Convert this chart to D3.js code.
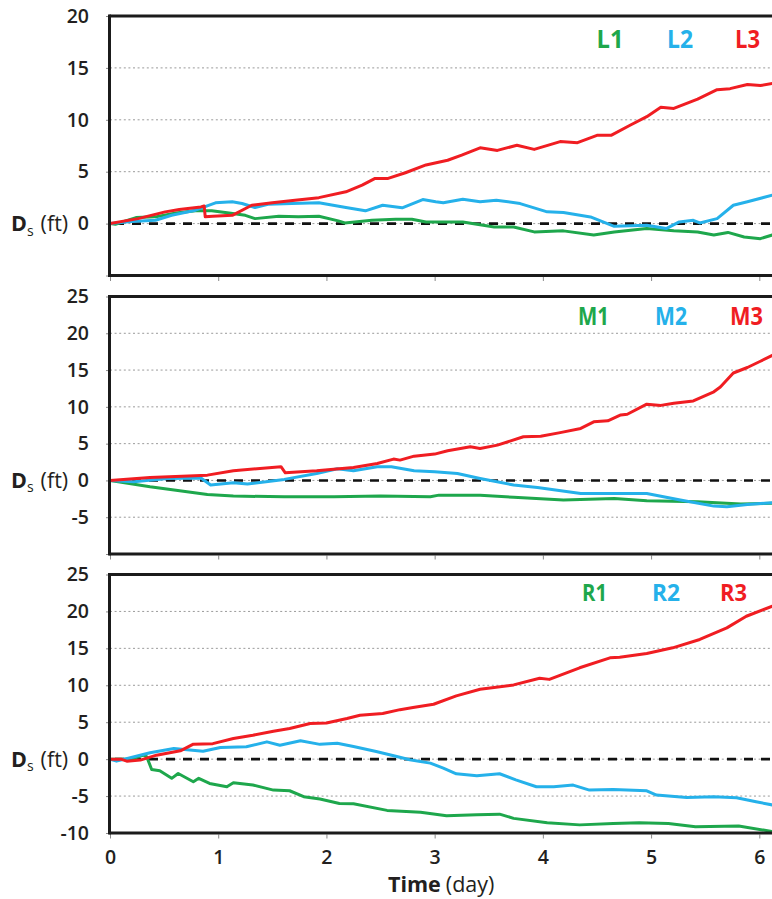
<!DOCTYPE html>
<html>
<head>
<meta charset="utf-8">
<script src="https://cdn.jsdelivr.net/npm/d3@7"></script>
<style>
  html, body { margin: 0; padding: 0; background: #fff; }
  svg { display: block; font-family: "Open Sans", "DejaVu Sans", sans-serif; }
</style>
</head>
<body>
<svg id="chart" width="772" height="899"></svg>
<script>
// Time axis (days)
const timeTicks = [0, 1, 2, 3, 4, 5, 6];

// Vertical tick values of each panel
const ticksL = [-5, 0, 5, 10, 15, 20];
const ticksM = [-10, -5, 0, 5, 10, 15, 20, 25];
const ticksR = [-10, -5, 0, 5, 10, 15, 20, 25];

// Upper panel: [day, Ds in ft]
const L1 = [[0,0],[0.05,-0.06],[0.24,0.58],[0.42,0.65],[0.61,1.03],[0.79,1.23],[0.94,1.23],[1.10,1.03],[1.25,0.8],[1.34,0.48],[1.56,0.71],[1.74,0.65],[1.93,0.71],[2.11,0.26],[2.17,0.06],[2.42,0.32],[2.64,0.42],[2.79,0.42],[2.92,0.16],[3.26,0.16],[3.55,-0.32],[3.73,-0.32],[3.92,-0.8],[4.19,-0.7],[4.47,-1.1],[4.66,-0.8],[4.96,-0.48],[5.21,-0.7],[5.43,-0.8],[5.58,-1.1],[5.71,-0.85],[5.86,-1.29],[6.01,-1.45],[6.12,-1.1]];
const L2 = [[0,0],[0.2,0.2],[0.42,0.32],[0.57,0.8],[0.79,1.29],[0.975,2.0],[1.13,2.1],[1.22,1.94],[1.34,1.55],[1.46,1.87],[1.68,1.94],[1.93,2.0],[2.18,1.55],[2.36,1.23],[2.52,1.77],[2.70,1.52],[2.89,2.32],[3.01,2.1],[3.08,2.0],[3.26,2.35],[3.42,2.1],[3.57,2.26],[3.79,1.93],[4.04,1.13],[4.19,1.06],[4.44,0.64],[4.66,-0.26],[4.96,-0.16],[5.14,-0.48],[5.26,0.16],[5.39,0.32],[5.45,0.06],[5.61,0.48],[5.76,1.77],[5.89,2.1],[6.12,2.74]];
const L3 = [[0,0],[0.26,0.48],[0.51,1.13],[0.64,1.35],[0.84,1.61],[0.87,1.7],[0.88,0.65],[0.95,0.7],[1.13,0.8],[1.31,1.77],[1.50,2.0],[1.71,2.26],[1.93,2.5],[2.18,3.06],[2.33,3.7],[2.45,4.35],[2.57,4.35],[2.73,4.9],[2.92,5.65],[3.12,6.1],[3.25,6.6],[3.42,7.3],[3.58,7.05],[3.76,7.55],[3.92,7.15],[4.16,7.9],[4.32,7.8],[4.50,8.5],[4.63,8.5],[4.81,9.5],[4.96,10.3],[5.09,11.2],[5.21,11.1],[5.43,12.0],[5.61,12.9],[5.73,13.0],[5.89,13.4],[6.01,13.3],[6.12,13.5]];

// Middle panel
const M1 = [[0,0],[0.37,-0.86],[0.90,-1.9],[1.14,-2.13],[1.61,-2.22],[2.07,-2.22],[2.50,-2.13],[2.96,-2.22],[3.04,-2.0],[3.42,-2.0],[3.73,-2.3],[4.19,-2.67],[4.66,-2.45],[4.96,-2.76],[5.43,-2.9],[5.83,-3.2],[6.12,-3.1]];
const M2 = [[0,0],[0.22,-0.18],[0.53,0.27],[0.84,0.32],[0.93,-0.63],[1.14,-0.32],[1.27,-0.5],[1.61,0.14],[1.91,0.95],[2.10,1.59],[2.25,1.31],[2.47,1.86],[2.60,1.86],[2.81,1.31],[3.00,1.18],[3.21,0.95],[3.42,0.27],[3.73,-0.63],[3.95,-0.95],[4.35,-1.77],[4.66,-1.77],[4.96,-1.77],[5.27,-2.67],[5.58,-3.49],[5.70,-3.58],[5.89,-3.26],[6.12,-3.03]];
const M3 = [[0,0],[0.37,0.4],[0.90,0.72],[1.14,1.31],[1.58,1.86],[1.62,1.04],[1.91,1.31],[2.25,1.77],[2.47,2.3],[2.62,2.9],[2.68,2.76],[2.81,3.3],[3.00,3.58],[3.12,4.03],[3.33,4.57],[3.42,4.35],[3.58,4.8],[3.82,5.93],[3.98,6.0],[4.16,6.5],[4.35,7.07],[4.47,7.97],[4.60,8.1],[4.72,8.9],[4.78,9.0],[4.96,10.37],[5.09,10.2],[5.21,10.5],[5.39,10.8],[5.58,12.05],[5.64,12.7],[5.76,14.6],[5.89,15.35],[6.01,16.2],[6.12,17.0]];

// Lower panel
const R1 = [[0,0],[0.2,0],[0.31,0.54],[0.34,0.3],[0.385,-1.4],[0.46,-1.58],[0.57,-2.6],[0.63,-1.94],[0.77,-3.06],[0.82,-2.6],[0.92,-3.29],[1.08,-3.74],[1.14,-3.2],[1.32,-3.5],[1.51,-4.19],[1.66,-4.28],[1.79,-5.09],[1.94,-5.4],[2.12,-6.0],[2.25,-6.04],[2.56,-6.94],[2.87,-7.2],[3.11,-7.66],[3.39,-7.52],[3.60,-7.45],[3.73,-8.02],[4.04,-8.6],[4.34,-8.9],[4.65,-8.7],[4.89,-8.6],[5.16,-8.7],[5.41,-9.14],[5.81,-9.05],[6.12,-9.8]];
const R2 = [[0,0],[0.06,-0.27],[0.215,0.3],[0.37,0.86],[0.59,1.44],[0.86,1.08],[1.02,1.58],[1.26,1.67],[1.45,2.34],[1.57,1.89],[1.76,2.48],[1.94,2.0],[2.10,2.16],[2.25,1.71],[2.46,1.04],[2.65,0.36],[2.77,-0.09],[2.96,-0.54],[3.08,-1.22],[3.20,-1.98],[3.39,-2.25],[3.60,-1.98],[3.75,-2.8],[3.94,-3.74],[4.10,-3.74],[4.28,-3.51],[4.43,-4.19],[4.65,-4.1],[4.96,-4.28],[5.05,-4.86],[5.33,-5.18],[5.58,-5.09],[5.79,-5.23],[5.97,-5.77],[6.12,-6.2]];
const R3 = [[0,0],[0.1,0],[0.155,-0.27],[0.28,-0.13],[0.43,0.54],[0.65,1.13],[0.77,2.03],[0.95,2.1],[1.14,2.79],[1.32,3.24],[1.51,3.78],[1.66,4.14],[1.85,4.82],[2.00,4.9],[2.19,5.5],[2.31,5.95],[2.52,6.17],[2.68,6.7],[2.80,6.98],[2.99,7.43],[3.20,8.56],[3.42,9.46],[3.73,10.05],[3.97,10.95],[4.06,10.8],[4.34,12.37],[4.62,13.72],[4.71,13.8],[4.96,14.3],[5.20,15.07],[5.45,16.2],[5.70,17.77],[5.88,19.35],[6.12,20.7]];

const seriesNames = {
  L: ["L1", "L2", "L3"],
  M: ["M1", "M2", "M3"],
  R: ["R1", "R2", "R3"]
};

// Styling
const COLORS = ["#1ea74c", "#25b1ea", "#f01d22"];
const INK = "#231f20";

// Panel layout (pixel frame of each plot box + name-label placement)
const panels = [
  { key: "L", data: [L1, L2, L3], ticks: ticksL, hideLabel: [-5],
    top: 16, bottom: 275.5,
    names: [{x: 596.5, w: 27}, {x: 667, w: 26}, {x: 735, w: 25}], nameY: 48.3, nameSize: 25 },
  { key: "M", data: [M1, M2, M3], ticks: ticksM, hideLabel: [-10],
    top: 296.5, bottom: 554,
    names: [{x: 578, w: 31}, {x: 655, w: 32}, {x: 730, w: 33}], nameY: 325, nameSize: 25 },
  { key: "R", data: [R1, R2, R3], ticks: ticksR, hideLabel: [],
    top: 574.5, bottom: 833,
    names: [{x: 582, w: 25}, {x: 652, w: 28}, {x: 720, w: 27}], nameY: 600.5, nameSize: 23 }
];

const svg = d3.select("#chart");
const W = 772;
const plotLeft = 110;

const x = d3.scaleLinear().domain([0, 6]).range([plotLeft, 759.3]);

panels.forEach((p, pi) => {
  const dom = d3.extent(p.ticks);
  const y = d3.scaleLinear().domain(dom).range([p.bottom, p.top]);
  const g = svg.append("g");

  const clipId = "clip" + p.key;
  svg.append("defs").append("clipPath").attr("id", clipId)
    .append("rect").attr("x", plotLeft).attr("y", p.top).attr("width", W - plotLeft + 10).attr("height", p.bottom - p.top);

  // dotted grid
  g.append("g").selectAll("line")
    .data(p.ticks.filter(v => v !== dom[0] && v !== dom[1]))
    .join("line")
    .attr("x1", plotLeft).attr("x2", W + 5)
    .attr("y1", d => y(d)).attr("y2", d => y(d))
    .attr("stroke", "#9a9a9a").attr("stroke-width", 1)
    .attr("stroke-dasharray", "2,2.6");

  // zero reference
  g.append("line")
    .attr("x1", plotLeft + 2).attr("x2", W + 5)
    .attr("y1", y(0)).attr("y2", y(0))
    .attr("stroke", "#111").attr("stroke-width", 2.6)
    .attr("stroke-dasharray", "9,8").attr("stroke-dashoffset", -3);

  // series
  const line = d3.line().x(d => x(d[0])).y(d => y(d[1])).curve(d3.curveLinear);
  g.append("g").attr("clip-path", `url(#${clipId})`)
    .selectAll("path").data(p.data).join("path")
    .attr("d", line)
    .attr("fill", "none")
    .attr("stroke", (d, i) => COLORS[i])
    .attr("stroke-width", 3)
    .attr("stroke-linejoin", "round")
    .attr("stroke-linecap", "round");

  // y axis ticks and labels
  const yAxis = d3.axisLeft(y).tickValues(p.ticks).tickSize(4).tickPadding(17)
    .tickFormat(d => p.hideLabel.includes(d) ? "" : String(d));
  const ya = g.append("g").attr("transform", `translate(${plotLeft},0)`).call(yAxis);
  ya.select(".domain").remove();
  ya.selectAll(".tick line").attr("stroke", "#8a8a8a").attr("stroke-width", 1);
  ya.selectAll(".tick text")
    .attr("fill", INK).attr("font-size", 19.5).attr("font-weight", 600)
    .attr("font-family", "'Open Sans', sans-serif");

  // x axis ticks (labels only on the lowest panel)
  const last = pi === panels.length - 1;
  const xAxis = d3.axisBottom(x).tickValues(timeTicks).tickSize(4).tickPadding(12)
    .tickFormat(d => last ? String(d) : "");
  const xa = g.append("g").attr("transform", `translate(0,${p.bottom + 1.5})`).call(xAxis);
  xa.select(".domain").remove();
  xa.selectAll(".tick line").attr("stroke", "#8a8a8a").attr("stroke-width", 1);
  xa.selectAll(".tick text")
    .attr("fill", INK).attr("font-size", 19.5).attr("font-weight", 600)
    .attr("font-family", "'Open Sans', sans-serif");

  // frame: top, left, bottom (the right edge runs past the page)
  const frame = g.append("g").attr("stroke", "#1b1b1b").attr("stroke-width", 3).attr("fill", "none");
  frame.append("line").attr("x1", plotLeft - 0.5).attr("x2", W + 5).attr("y1", p.top).attr("y2", p.top);
  frame.append("line").attr("x1", plotLeft - 0.5).attr("x2", W + 5).attr("y1", p.bottom).attr("y2", p.bottom);
  frame.append("line").attr("x1", plotLeft - 0.5).attr("x2", plotLeft - 0.5).attr("y1", p.top - 1.5).attr("y2", p.bottom + 1.5);

  // series names
  p.names.forEach((n, i) => {
    g.append("text")
      .attr("x", n.x).attr("y", p.nameY)
      .attr("font-size", p.nameSize).attr("font-weight", 700)
      .attr("fill", COLORS[i])
      .attr("textLength", n.w).attr("lengthAdjust", "spacingAndGlyphs")
      .text(seriesNames[p.key][i]);
  });

  // axis quantity label: Ds (ft)
  const t = g.append("text").attr("x", 11).attr("y", y(0) + 7.5)
    .attr("fill", INK).attr("font-size", 21.5);
  t.append("tspan").attr("font-weight", 700).text("D");
  t.append("tspan").attr("font-size", 14).attr("dy", 4.5).attr("font-weight", 500).text("s");
  t.append("tspan").attr("dy", -4.5).attr("dx", 7).text("(ft)");
});

// time axis title
const tt = svg.append("text").attr("x", 388).attr("y", 892)
  .attr("fill", INK).attr("font-size", 21.5);
tt.append("tspan").attr("font-weight", 700).text("Time");
tt.append("tspan").attr("dx", 5).text("(day)");
</script>
</body>
</html>
